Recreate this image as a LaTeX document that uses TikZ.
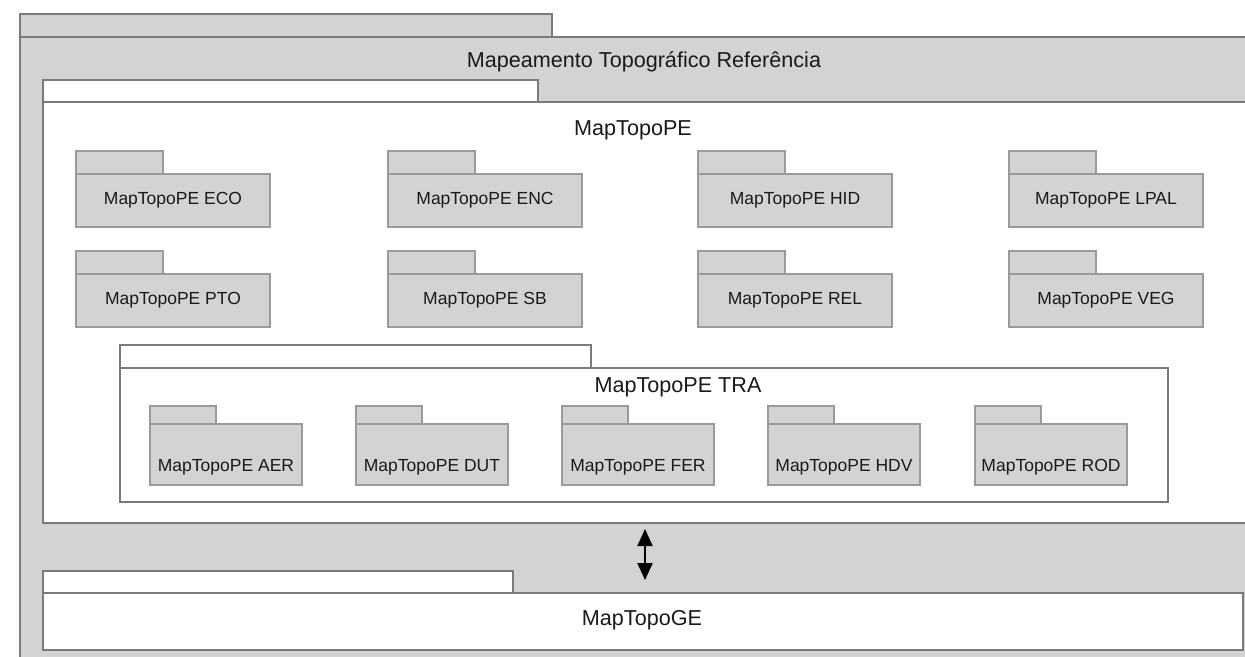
\documentclass[tikz,border=0pt]{standalone}
\usepackage{fontspec}
\setmainfont{Liberation Sans}
\usetikzlibrary{arrows.meta}
\definecolor{pkgfill}{HTML}{D2D3D5}
\definecolor{pkgline}{HTML}{7A7A7A}
\definecolor{innerline}{HTML}{9A9A9A}
\definecolor{txt}{HTML}{1A1A1A}
\begin{document}
\begin{tikzpicture}[x=1pt,y=-1pt,
  box/.style={draw=pkgline, line width=1.4pt, inner sep=0pt, outer sep=0pt, anchor=north west},
  graybox/.style={box, fill=pkgfill},
  whitebox/.style={box, fill=white},
  innerbox/.style={box, fill=pkgfill, draw=innerline, line width=1.2pt},
  titletext/.style={font=\fontsize{21.6}{24}\selectfont, text=txt, inner sep=0pt},
  nametext/.style={font=\fontsize{17.5}{20}\selectfont, text=txt, inner sep=0pt}]
\useasboundingbox (0,0) rectangle (1245,656);
\clip (0,0) rectangle (1245,656);
% outer package
\node[graybox, minimum width=532pt, minimum height=23pt] (reftab) at (20,14) {};
\node[graybox, minimum width=1260pt, minimum height=660pt] (ref) at (20,37) {};
\node[titletext] (reftitle) at (644,62) {Mapeamento Topográfico Referência};
% MapTopoPE
\node[whitebox, minimum width=495pt, minimum height=22pt] (petab) at (43,80) {};
\node[whitebox, minimum width=1203pt, minimum height=421pt] (pe) at (43,102) {};
\node[titletext] (petitle) at (633,130) {MapTopoPE};
% row 1
\foreach \x/\n/\t in {76/eco/ECO, 388/enc/ENC, 698/hid/HID, 1009/lpal/LPAL}{
  \node[innerbox, minimum width=87pt, minimum height=23pt] (\n tab) at (\x,151) {};
  \node[innerbox, minimum width=194pt, minimum height=53pt] (\n) at (\x,174) {};
  \node[nametext] (\n label) at (\x+97,200) {MapTopoPE \t};
}
% row 2
\foreach \x/\n/\t in {76/pto/PTO, 388/sb/SB, 698/rel/REL, 1009/veg/VEG}{
  \node[innerbox, minimum width=87pt, minimum height=23pt] (\n tab) at (\x,251) {};
  \node[innerbox, minimum width=194pt, minimum height=53pt] (\n) at (\x,274) {};
  \node[nametext] (\n label) at (\x+97,300) {MapTopoPE \t};
}
% MapTopoPE TRA
\node[whitebox, minimum width=471pt, minimum height=23pt] (tratab) at (120,345) {};
\node[whitebox, minimum width=1048pt, minimum height=134pt] (tra) at (120,368) {};
\node[titletext] (tratitle) at (678,387) {MapTopoPE TRA};
\foreach \x/\n/\t in {150/aer/AER, 356/dut/DUT, 562/fer/FER, 768/hdv/HDV, 975/rod/ROD}{
  \node[innerbox, minimum width=66pt, minimum height=18pt] (\n tab) at (\x,406) {};
  \node[innerbox, minimum width=152pt, minimum height=61pt] (\n) at (\x,424) {};
  \node[nametext] (\n label) at (\x+76,467) {MapTopoPE \t};
}
% MapTopoGE
\node[whitebox, minimum width=470pt, minimum height=22pt] (getab) at (43,571) {};
\node[whitebox, minimum width=1200pt, minimum height=57pt] (ge) at (43,593) {};
\node[titletext] (getitle) at (642,620) {MapTopoGE};
% dependency arrow
\coordinate (arrtop) at (645,529);
\coordinate (arrbot) at (645,580);
\draw[line width=2pt, {Triangle[width=15pt,length=17pt]}-{Triangle[width=15pt,length=17pt]}] (arrtop) -- (arrbot);
\end{tikzpicture}
\end{document}
